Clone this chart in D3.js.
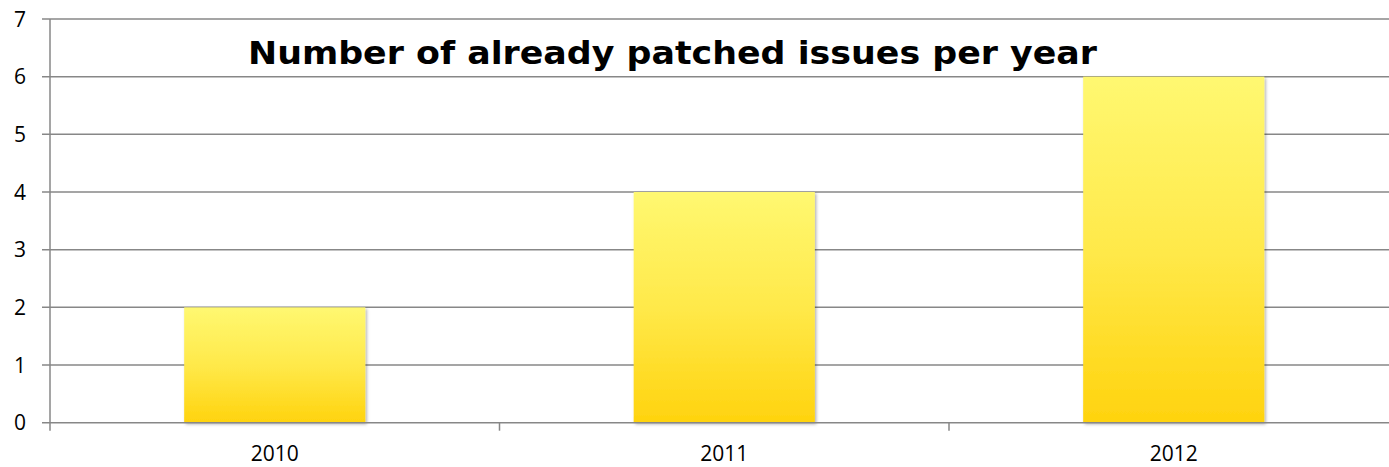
<!DOCTYPE html>
<html>
<head>
<meta charset="utf-8">
<script src="https://cdn.jsdelivr.net/npm/d3@7"></script>
<style>
  html, body { margin: 0; padding: 0; background: #fff; overflow: hidden; }
  svg { display: block; }
</style>
</head>
<body>
<svg id="chart" width="1389" height="467"></svg>
<script>
// Patched issues counted per year
const years = ["2010", "2011", "2012"];
const patched = [2, 4, 6];
const yTicks = [0, 1, 2, 3, 4, 5, 6, 7];
const chartTitle = "Number of already patched issues per year";

const svg = d3.select("#chart");
const plotLeft = 50, plotTop = 19, plotBottom = 422.7;
const step = 449.5;
const labelFont = "'Open Sans', 'Liberation Sans', sans-serif";

const x = d3.scaleBand()
  .domain(years)
  .range([plotLeft, plotLeft + step * years.length])
  .paddingInner(0.597)
  .paddingOuter(0.2985);

const y = d3.scaleLinear().domain([0, 7]).range([plotBottom, plotTop]);

const defs = svg.append("defs");
const grad = defs.append("linearGradient")
  .attr("id", "barFill").attr("x1", 0).attr("y1", 0).attr("x2", 0).attr("y2", 1);
grad.append("stop").attr("offset", "0%").attr("stop-color", "#fff871");
grad.append("stop").attr("offset", "50%").attr("stop-color", "#ffe94a");
grad.append("stop").attr("offset", "100%").attr("stop-color", "#ffd30e");

const shadow = defs.append("filter").attr("id", "barShadow")
  .attr("x", "-10%").attr("y", "-10%").attr("width", "130%").attr("height", "130%");
shadow.append("feDropShadow")
  .attr("dx", 1.5).attr("dy", 1.5).attr("stdDeviation", 1.5)
  .attr("flood-color", "#000").attr("flood-opacity", 0.3);

const gridColor = "#878787";

// horizontal gridlines with left tick marks
svg.append("g").selectAll("line").data(yTicks.slice(1)).join("line")
  .attr("x1", plotLeft - 8).attr("x2", 1389)
  .attr("y1", d => y(d)).attr("y2", d => y(d))
  .attr("stroke", gridColor).attr("stroke-width", 1.5);

// y axis line and labels
svg.append("line")
  .attr("x1", plotLeft).attr("x2", plotLeft).attr("y1", plotTop).attr("y2", plotBottom + 8)
  .attr("stroke", gridColor).attr("stroke-width", 1.5);

svg.append("g").selectAll("text").data(yTicks).join("text")
  .attr("x", 26).attr("y", d => y(d)).attr("dy", "0.36em")
  .attr("text-anchor", "end")
  .attr("font-family", labelFont)
  .attr("font-size", 21).attr("fill", "#000")
  .text(d => d);

// bars
svg.append("g").selectAll("rect").data(years).join("rect")
  .attr("x", d => x(d))
  .attr("width", x.bandwidth())
  .attr("y", (d, i) => y(patched[i]))
  .attr("height", (d, i) => y(0) - y(patched[i]))
  .attr("fill", "url(#barFill)")
  .attr("filter", "url(#barShadow)");

// x axis baseline, category separators and labels
svg.append("line")
  .attr("x1", plotLeft - 8).attr("x2", 1389).attr("y1", plotBottom).attr("y2", plotBottom)
  .attr("stroke", gridColor).attr("stroke-width", 1.5);

const seps = years.map((d, i) => plotLeft + step * i);
svg.append("g").selectAll("line").data(seps.slice(1)).join("line")
  .attr("x1", d => d).attr("x2", d => d)
  .attr("y1", plotBottom).attr("y2", plotBottom + 8)
  .attr("stroke", gridColor).attr("stroke-width", 1.5);

svg.append("g").selectAll("text").data(years).join("text")
  .attr("x", d => x(d) + x.bandwidth() / 2).attr("y", 461)
  .attr("text-anchor", "middle")
  .attr("font-family", labelFont)
  .attr("font-size", 21).attr("fill", "#000")
  .text(d => d);

// title
svg.append("text")
  .attr("x", 248).attr("y", 64)
  .attr("font-family", "'DejaVu Sans', 'Open Sans', sans-serif")
  .attr("font-weight", "bold").attr("font-size", 32)
  .attr("textLength", 849).attr("lengthAdjust", "spacingAndGlyphs")
  .attr("fill", "#000")
  .text(chartTitle);
</script>
</body>
</html>
